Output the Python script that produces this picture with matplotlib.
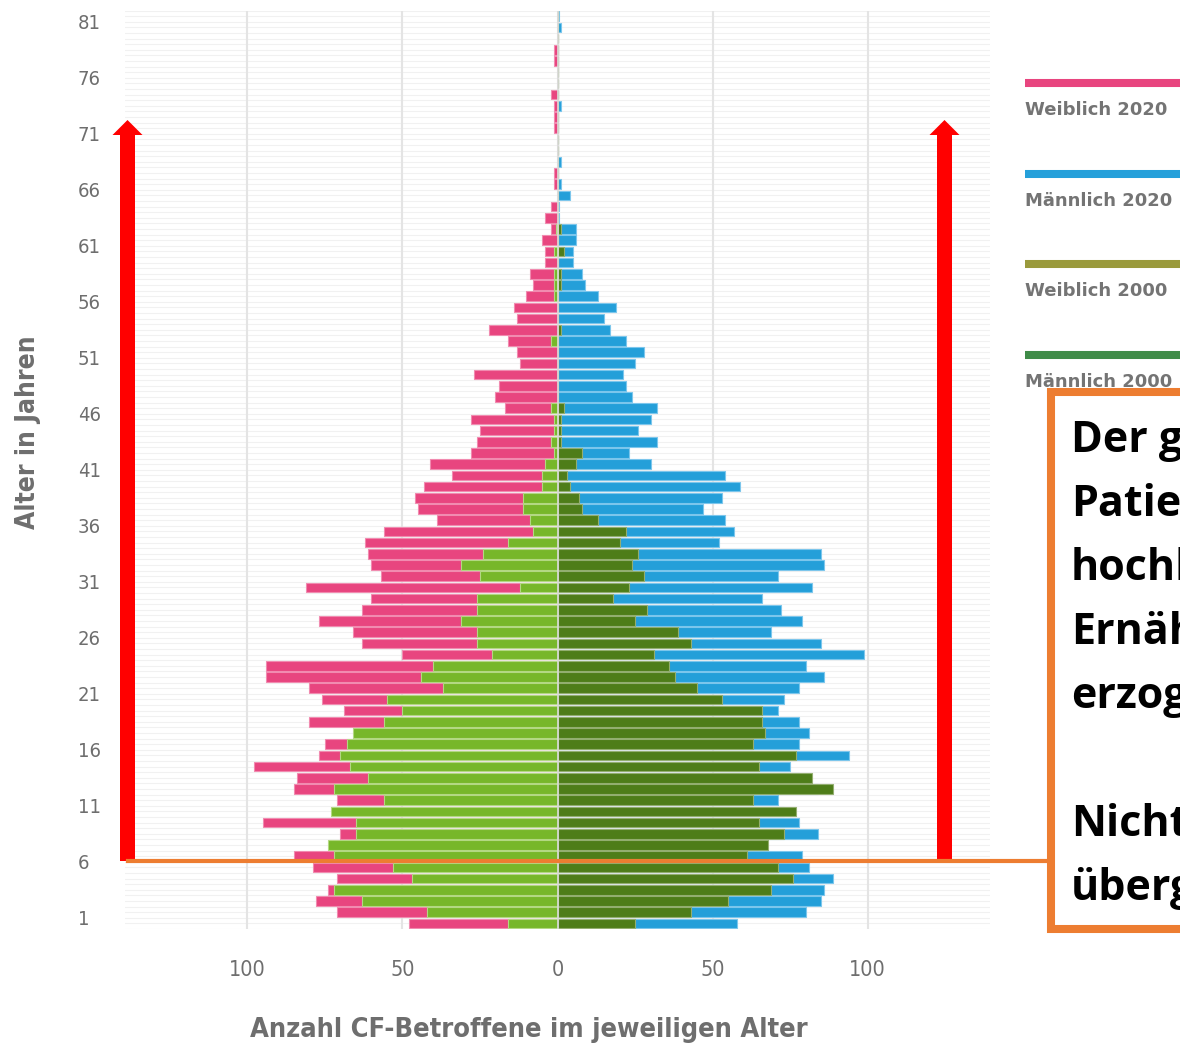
import matplotlib
matplotlib.use("Agg")
import matplotlib.pyplot as plt
from matplotlib.patches import FancyArrow, Rectangle
from matplotlib.lines import Line2D

# Daten: Alter 0..81 (von unten nach oben)
ages = list(range(0, 82))
tick_ages = ages[1::5]

weiblich_2020 = [48, 71, 78, 74, 71, 79, 85, 70, 70, 95,
                 68, 71, 85, 84, 98, 77, 75, 62, 80, 69,
                 76, 80, 94, 94, 50, 63, 66, 77, 63, 60,
                 81, 57, 60, 61, 62, 56, 39, 45, 46, 43,
                 34, 41, 28, 26, 25, 28, 17, 20, 19, 27,
                 12, 13, 16, 22, 13, 14, 10, 8, 9, 4,
                 4, 5, 2, 4, 2, 0, 1, 1, 0, 0,
                 0, 1, 1, 1, 2, 0, 0, 1, 1, 0,
                 0, 0]
maennlich_2020 = [58, 80, 85, 86, 89, 81, 79, 64, 84, 78,
                  73, 71, 84, 78, 75, 94, 78, 81, 78, 71,
                  73, 78, 86, 80, 99, 85, 69, 79, 72, 66,
                  82, 71, 86, 85, 52, 57, 54, 47, 53, 59,
                  54, 30, 23, 32, 26, 30, 32, 24, 22, 21,
                  25, 28, 22, 17, 15, 19, 13, 9, 8, 5,
                  5, 6, 6, 0.5, 0.5, 4, 1, 0, 1, 0,
                  0, 0, 0, 1, 0, 0, 0, 0, 0, 0,
                  1, 0.5]
weiblich_2000 = [16, 42, 63, 72, 47, 53, 72, 74, 65, 65,
                 73, 56, 72, 61, 67, 70, 68, 66, 56, 50,
                 55, 37, 44, 40, 21, 26, 26, 31, 26, 26,
                 12, 25, 31, 24, 16, 8, 9, 11, 11, 5,
                 5, 4, 1, 2, 1, 1, 2, 0, 0, 0,
                 0, 0, 2, 0, 0, 0, 1, 1, 1, 0,
                 1, 0, 0.5, 0, 0, 0, 0, 0, 0, 0,
                 0, 0, 0, 0, 0, 0, 0, 0, 0, 0,
                 0, 0]
maennlich_2000 = [25, 43, 55, 69, 76, 71, 61, 68, 73, 65,
                  77, 63, 89, 82, 65, 77, 63, 67, 66, 66,
                  53, 45, 38, 36, 31, 43, 39, 25, 29, 18,
                  23, 28, 24, 26, 20, 22, 13, 8, 7, 4,
                  3, 6, 8, 1, 1, 1, 2, 0, 0, 0,
                  0, 0, 0, 1, 0, 0, 0, 1, 1, 0,
                  2, 0, 1, 0, 0, 0, 0, 0, 0, 0,
                  0, 0, 0, 0, 0, 0, 0, 0, 0, 0,
                  0, 0]

legend_labels = ["Weiblich 2020", "Männlich 2020", "Weiblich 2000", "Männlich 2000"]
legend_colors = ["#e8457f", "#25a0da", "#9a9a3c", "#3f8b48"]

# im Original am rechten Bildrand abgeschnitten
box_lines = ["Der g", "Patie", "hochl", "Ernäh", "erzog", "", "Nicht", "überg"]

# Farben
pink, pink_edge = "#e8457f", "#f18bb0"
blau, blau_edge = "#249fd9", "#7cc6ec"
hellgruen, hellgruen_edge = "#77b72a", "#b3d883"
dunkelgruen, dunkelgruen_edge = "#4e7d19", "#93ae70"
grau = "#6e6e6e"
orange = "#ed7d31"

W, H = 1180, 1049
fig = plt.figure(figsize=(W / 100, H / 100), dpi=100)


def fx(px):
    return px / W


def fy(py):
    return 1 - py / H


ax = fig.add_axes([fx(125), fy(929), (990 - 125) / W, (929 - 10.6) / H])

# Hilfslinien
for y in [a * 0.5 - 0.5 for a in range(0, 165)]:
    ax.axhline(y, color="#f1f1f1", lw=0.8, zorder=0)
for x in [-100, -50, 0, 50, 100]:
    ax.axvline(x, color="#e4e4e4", lw=1.5, zorder=1)

# 2020 hinten, 2000 davor
ax.barh(ages, [-v for v in weiblich_2020], height=0.86, color=pink,
        edgecolor=pink_edge, linewidth=0.8, zorder=2)
ax.barh(ages, maennlich_2020, height=0.86, color=blau,
        edgecolor=blau_edge, linewidth=0.8, zorder=2)
ax.barh(ages, [-v for v in weiblich_2000], height=0.86, color=hellgruen,
        edgecolor=hellgruen_edge, linewidth=0.8, zorder=3)
ax.barh(ages, maennlich_2000, height=0.86, color=dunkelgruen,
        edgecolor=dunkelgruen_edge, linewidth=0.8, zorder=3)
ax.axvline(0, color="#dcdcdc", lw=1.2, zorder=4)

ax.set_xlim(-139.5, 139.5)
ax.set_ylim(-0.5, 81.5)
for s in ax.spines.values():
    s.set_visible(False)

ax.set_xticks([-100, -50, 0, 50, 100])
ax.set_xticklabels(["100", "50", "0", "50", "100"])
ax.set_yticks([a - 0.5 for a in tick_ages])
ax.set_yticklabels([str(a) for a in tick_ages])
ax.tick_params(axis="x", length=0, pad=22, labelsize=15.5, labelcolor=grau)
ax.tick_params(axis="y", length=0, pad=34, labelsize=14.5, labelcolor=grau)
for lab in ax.get_yticklabels():
    lab.set_horizontalalignment("left")
for lab in ax.get_xticklabels() + ax.get_yticklabels():
    lab.set_fontstretch("condensed")

fig.text(fx(529), fy(1030), "Anzahl CF-Betroffene im jeweiligen Alter",
         ha="center", va="center", fontsize=19.5, fontweight="bold",
         color=grau, fontstretch="condensed")
fig.text(fx(28), fy(432), "Alter in Jahren", rotation=90, ha="center",
         va="center", fontsize=19, fontweight="bold", color=grau,
         fontstretch="condensed")

# Legende rechts
for i, (lab, col) in enumerate(zip(legend_labels, legend_colors)):
    ly = 83 + i * 90.7
    fig.add_artist(Line2D([fx(1025), fx(1200)], [fy(ly), fy(ly)], lw=5.8,
                          color=col, solid_capstyle="butt",
                          transform=fig.transFigure))
    fig.text(fx(1025), fy(ly + 27), lab, ha="left", va="center",
             fontsize=13, fontweight="bold", color="#747474")

# Rote Pfeile
for xp in [127.5, 944.5]:
    fig.add_artist(FancyArrow(fx(xp), fy(861), 0, fy(120) - fy(861),
                              width=15 / W, head_width=30 / W,
                              head_length=15 / H, length_includes_head=True,
                              color="#ff0000", lw=0, transform=fig.transFigure,
                              zorder=6))

# Orange Linie und Kasten
fig.add_artist(Line2D([fx(128), fx(1051)], [fy(861), fy(861)], lw=3,
                      color=orange, transform=fig.transFigure, zorder=6))
fig.add_artist(Rectangle((fx(1051), fy(929)), (1250 - 1051) / W,
                         (929 - 391.5) / H, facecolor="white",
                         edgecolor=orange, lw=5.8,
                         transform=fig.transFigure, zorder=7))
for i, line in enumerate(box_lines):
    fig.text(fx(1071), fy(452 + i * 64), line, ha="left", va="baseline",
             fontsize=31, fontweight="bold", color="black",
             family="Open Sans", zorder=8)

fig.savefig("out.png", dpi=100)
